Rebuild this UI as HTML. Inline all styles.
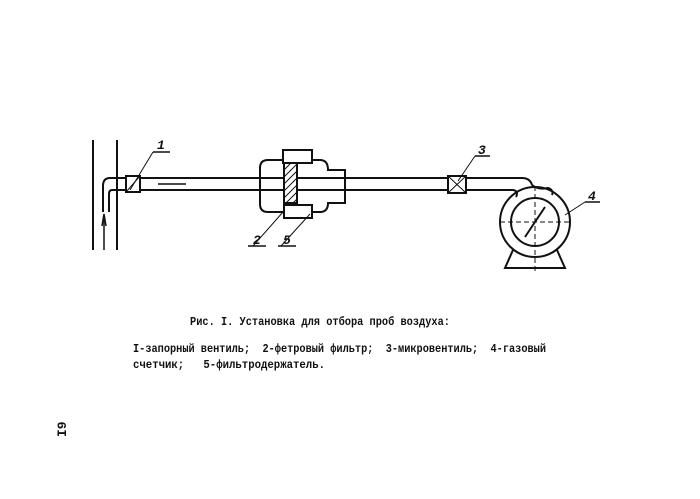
<!DOCTYPE html>
<html><head><meta charset="utf-8"><style>
html,body{margin:0;padding:0;background:#fff;}
svg{display:block}
text{font-family:"Liberation Mono",monospace;font-weight:bold;fill:#111;white-space:pre}
</style></head><body>
<svg width="700" height="499" viewBox="0 0 700 499" xmlns="http://www.w3.org/2000/svg">
<g stroke="#111" stroke-width="2" fill="none">
<line x1="93" y1="140" x2="93" y2="250"/>
<line x1="117" y1="140" x2="117" y2="250"/>
<path d="M126 178 H110 Q103 178 103 186 V212"/>
<path d="M126 190 H112 Q109 190 109 194 V212"/>
<line x1="104" y1="250" x2="104" y2="216" stroke-width="1.5"/>
<path d="M102 226 L104 214 L106 226" stroke-width="1.5"/>
<rect x="126" y="176" width="14" height="16"/>
<line x1="126" y1="192" x2="140" y2="176" stroke-width="1"/>
<line x1="130" y1="190" x2="153" y2="152" stroke-width="1"/>
<line x1="153" y1="152" x2="170" y2="152" stroke-width="1.5"/>
<line x1="140" y1="178" x2="284" y2="178"/>
<line x1="140" y1="190" x2="284" y2="190"/>
<line x1="158" y1="184" x2="186" y2="184" stroke-width="1.5"/>
<path d="M283 160 H268 Q260 160 260 168 V204 Q260 212 268 212 H284"/>
<path d="M312 160 H320 Q328 160 328 170 H345 V203 H328 Q328 212 320 212 H312"/>
<rect x="283" y="150" width="29" height="13"/>
<rect x="284" y="205" width="28" height="13"/>
<rect x="284" y="163" width="13" height="40"/>
<g stroke-width="1">
<line x1="284" y1="170" x2="291" y2="163"/><line x1="284" y1="177" x2="297" y2="164"/>
<line x1="284" y1="184" x2="297" y2="171"/><line x1="284" y1="191" x2="297" y2="178"/>
<line x1="284" y1="198" x2="297" y2="185"/><line x1="286" y1="203" x2="297" y2="192"/>
<line x1="293" y1="203" x2="297" y2="199"/>
</g>
<line x1="283" y1="212" x2="253" y2="246" stroke-width="1"/>
<line x1="248" y1="246" x2="266" y2="246" stroke-width="1.5"/>
<line x1="310" y1="214" x2="281" y2="246" stroke-width="1"/>
<line x1="278" y1="246" x2="296" y2="246" stroke-width="1.5"/>
<line x1="297" y1="178" x2="448" y2="178"/>
<line x1="297" y1="190" x2="448" y2="190"/>
<rect x="448" y="176" width="18" height="17"/>
<line x1="448" y1="176" x2="466" y2="193" stroke-width="1"/>
<line x1="448" y1="193" x2="466" y2="176" stroke-width="1"/>
<line x1="458" y1="181" x2="475" y2="156" stroke-width="1"/>
<line x1="475" y1="156" x2="490" y2="156" stroke-width="1.5"/>
<path d="M466 178 H522 Q530 178 532 185"/>
<path d="M466 190 H513 Q519 191 516 197"/>
<path d="M532 185 Q538 190 548 188 Q554 190 552 195"/>
<circle cx="535" cy="222" r="35"/>
<circle cx="535" cy="222" r="24"/>
<line x1="525" y1="237" x2="545" y2="207" stroke-width="2"/>
<line x1="535" y1="186" x2="535" y2="273" stroke-width="1" stroke-dasharray="5,3"/>
<line x1="500" y1="222" x2="572" y2="222" stroke-width="1" stroke-dasharray="5,3"/>
<path d="M513 250 L505 268 H565 L557 250"/>
<line x1="565" y1="215" x2="585" y2="202" stroke-width="1"/>
<line x1="585" y1="202" x2="600" y2="202" stroke-width="1.5"/>
</g>
<g font-size="13" font-style="italic">
<text x="157" y="149">1</text>
<text x="253" y="244">2</text>
<text x="283" y="244">5</text>
<text x="478" y="154">3</text>
<text x="588" y="200">4</text>
</g>
<g font-size="12">
<text x="190" y="325" textLength="260" lengthAdjust="spacingAndGlyphs">Рис. I. Установка для отбора проб воздуха:</text>
<text x="133" y="352" textLength="413" lengthAdjust="spacingAndGlyphs">I-запорный вентиль;  2-фетровый фильтр;  3-микровентиль;  4-газовый</text>
<text x="133" y="368" textLength="192" lengthAdjust="spacingAndGlyphs">счетчик;   5-фильтродержатель.</text>
<text transform="translate(66,437) rotate(-90)" font-size="13">I9</text>
</g>
</svg>
</body></html>
